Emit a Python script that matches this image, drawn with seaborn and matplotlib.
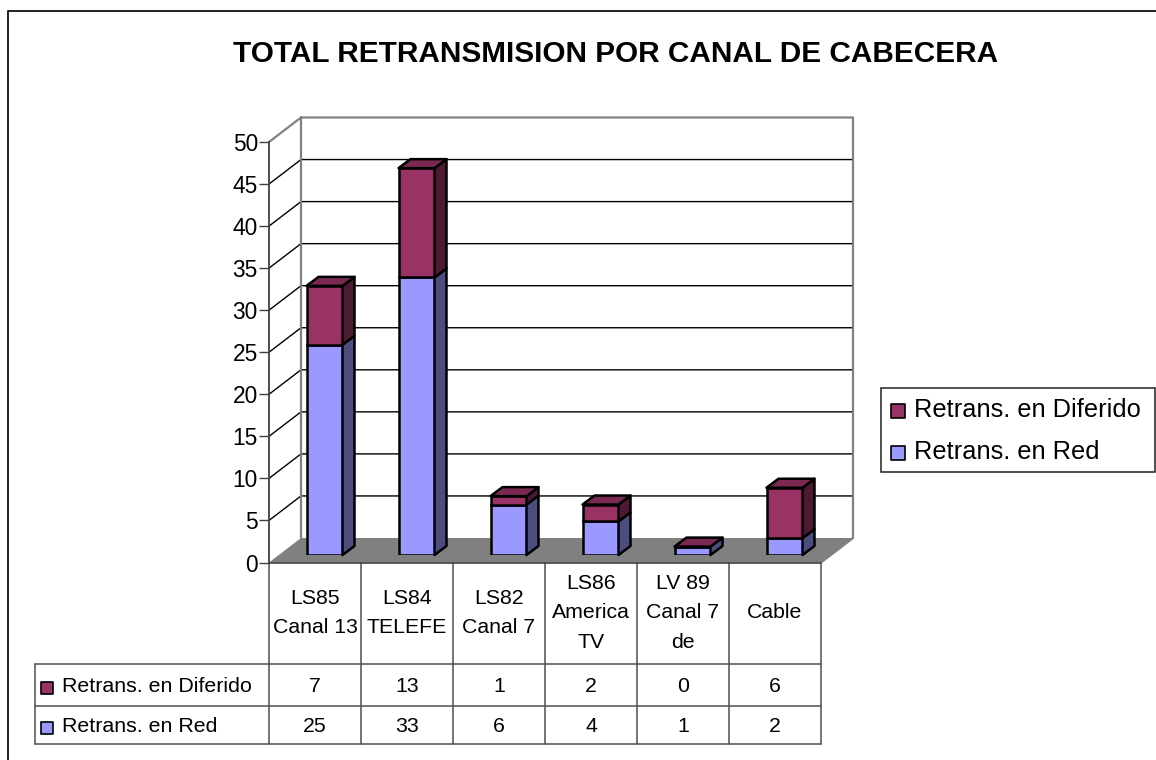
import numpy as np
import pandas as pd
import seaborn as sns
import matplotlib.pyplot as plt

categories = ["LS85\nCanal 13", "LS84\nTELEFE", "LS82\nCanal 7", "LS86\nAmerica\nTV", "LV 89\nCanal 7\nde", "Cable"]
en_red = [25, 33, 6, 4, 1, 2]
en_diferido = [7, 13, 1, 2, 0, 6]
series_names = ["Retrans. en Diferido", "Retrans. en Red"]
yticks = list(range(0, 55, 5))
title = "TOTAL RETRANSMISION POR CANAL DE CABECERA"

W, H = 1156, 760
RED_COL = "#9999ff"
RED_SIDE = "#4d4d80"
DIF_COL = "#993366"
DIF_TOP = "#7a2952"
DIF_SIDE = "#4d1a33"
GRAY = "#808080"

sns.set_theme(style="white")
plt.rcParams['font.family'] = ['Liberation Sans', 'DejaVu Sans']

fig = plt.figure(figsize=(W / 100, H / 100), dpi=100)


def px_axes(left, top, right, bottom):
    return fig.add_axes([left / W, 1 - bottom / H, (right - left) / W, (bottom - top) / H])


# whole figure in pixels: frame, title, legend, table
page = fig.add_axes([0, 0, 1, 1])
page.set_xlim(0, W)
page.set_ylim(H, 0)
page.axis("off")

page.plot([7.5, 7.5, W], [H, 10.5, 10.5], color="#202020", lw=1.4)
page.text(616, 54, title, ha="center", va="center", fontsize=21.4, fontweight="bold", color="black")

# front plane of the chart, the walls are offset from it
ax = px_axes(269, 142, 821, 562.5)
ax.set_xlim(-0.5, 5.5)
ax.set_ylim(0, 50)
ax.patch.set_alpha(0)
for s in ["top", "right", "bottom"]:
    ax.spines[s].set_visible(False)
ax.spines["left"].set_color("#404040")
ax.spines["left"].set_linewidth(1.3)
ax.set_xticks([])
ax.set_yticks(yticks)
ax.tick_params(axis="y", length=7, width=1, color="#404040", labelsize=16.4, labelcolor="black", pad=1, left=True)

wall_dx = 32 / 92
wall_dy = 24.5 / 8.41
x0, x1 = -0.5, 5.5

# floor
ax.fill([x0, x1, x1 + wall_dx, x0 + wall_dx], [0, 0, wall_dy, wall_dy], color=GRAY, clip_on=False, lw=0)

# gridlines on back and side wall
for v in yticks[1:-1]:
    ax.plot([x0, x0 + wall_dx, x1 + wall_dx], [v, v + wall_dy, v + wall_dy], color="black", lw=1, clip_on=False)
ax.plot([x0, x0 + wall_dx, x1 + wall_dx, x1 + wall_dx, x1],
        [50, 50 + wall_dy, 50 + wall_dy, wall_dy, 0], color=GRAY, lw=1.6, clip_on=False)
ax.plot([x0 + wall_dx, x0 + wall_dx], [wall_dy, 50 + wall_dy], color=GRAY, lw=1.6, clip_on=False)
ax.plot([x0, x1], [0, 0], color="#404040", lw=1.2, clip_on=False)

# bars sit part way into the floor
ax_bars = px_axes(278.5, 134.5, 830.5, 555)
ax_bars.patch.set_alpha(0)

df = pd.DataFrame({"canal": categories, "red": en_red, "diferido": en_diferido})
bar_w = 36 / 92
sns.barplot(data=df, x="canal", y="red", color=RED_COL, saturation=1, width=bar_w,
            edgecolor="black", linewidth=1.8, ax=ax_bars, order=categories)
sns.barplot(data=df, x="canal", y="diferido", bottom=df["red"], color=DIF_COL, saturation=1, width=bar_w,
            edgecolor="black", linewidth=1.8, ax=ax_bars, order=categories)
ax_bars.set_xlim(-0.5, 5.5)
ax_bars.set_ylim(0, 50)
ax_bars.axis("off")

bar_dx = 12 / 92
bar_dy = 9 / 8.41


def side(i, lo, hi, col):
    r = i + bar_w / 2
    ax_bars.fill([r, r + bar_dx, r + bar_dx, r], [lo, lo + bar_dy, hi + bar_dy, hi],
                 facecolor=col, edgecolor="black", lw=1.8, clip_on=False, joinstyle="round")


for i in range(len(categories)):
    r = en_red[i]
    t = r + en_diferido[i]
    side(i, 0, r, RED_SIDE)
    if en_diferido[i] > 0:
        side(i, r, t, DIF_SIDE)
    ax_bars.fill([i - bar_w / 2, i + bar_w / 2, i + bar_w / 2 + bar_dx, i - bar_w / 2 + bar_dx],
                 [t, t, t + bar_dy, t + bar_dy], facecolor=DIF_TOP, edgecolor="black", lw=1.8,
                 clip_on=False, joinstyle="round")

# data table below the chart
cell = 92
xs = [269 + cell * i for i in range(len(categories) + 1)]
row_y = [664, 706, 744]
for x in xs:
    page.plot([x, x], [563, row_y[-1]], color="#505050", lw=1.1)
for y in row_y:
    page.plot([35, xs[-1]], [y, y], color="#505050", lw=1.1)
page.plot([35, 35], [row_y[0], row_y[-1]], color="#505050", lw=1.1)

for i, c in enumerate(categories):
    page.text(xs[i] + cell / 2, 613, c, ha="center", va="center", fontsize=15.3, linespacing=1.7, color="black")
    page.text(xs[i] + cell / 2, 686, str(en_diferido[i]), ha="center", va="center", fontsize=15.3, color="black")
    page.text(xs[i] + cell / 2, 727, str(en_red[i]), ha="center", va="center", fontsize=15.3, color="black")

for y, name, col in zip([688, 728], series_names, [DIF_COL, RED_COL]):
    page.scatter([47], [y], marker="s", s=85, facecolor=col, edgecolor="black", linewidth=1.2)
    page.text(62, y - 1, name, ha="left", va="center", fontsize=15.4, color="black")

# legend box
page.fill([881, 1155, 1155, 881], [388, 388, 472, 472], facecolor="white", edgecolor="#202020", lw=1.1)
for y, name, col in zip([411, 453], series_names, [DIF_COL, RED_COL]):
    page.scatter([898], [y], marker="s", s=100, facecolor=col, edgecolor="black", linewidth=1.2)
    page.text(914, y - 1, name, ha="left", va="center", fontsize=18.3, color="black")

fig.savefig("out.png", dpi=100)
